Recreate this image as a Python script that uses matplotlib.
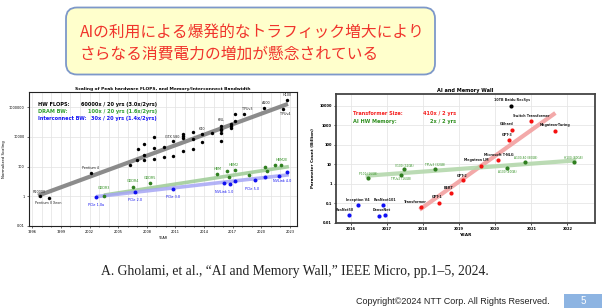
import matplotlib
matplotlib.use('Agg')
import matplotlib.pyplot as plt
from matplotlib.patches import FancyBboxPatch, Rectangle
from matplotlib.ticker import MultipleLocator, NullLocator, FixedLocator

# ---------------- data: left chart ----------------
flops_years = [1996.8, 1997.7, 2002.1, 2006.2, 2007.0, 2007.1, 2007.7, 2007.7, 2007.7,
               2008.8, 2008.8, 2008.8, 2009.8, 2009.8, 2010.7, 2010.8, 2011.8, 2011.8,
               2011.8, 2011.8, 2012.8, 2012.8, 2012.8, 2013.8, 2013.8, 2014.8, 2015.8,
               2015.8, 2015.8, 2015.8, 2015.8, 2016.8, 2016.8, 2016.8, 2017.3, 2017.3,
               2018.2, 2020.3, 2022.3, 2022.7]
flops_vals = [1.0, 0.73, 37, 130, 270, 1480, 3200, 580, 280,
              9100, 1740, 310, 2000, 470, 4900, 500, 15800, 11000,
              8500, 1200, 23000, 7400, 1620, 15800, 4200, 17800, 50000,
              34700, 27000, 18600, 4900, 76000, 52500, 38000, 324000, 126000,
              355000, 912000, 776000, 2820000]
flops_names = {0: "R10000", 1: "Pentium II Xeon", 2: "Pentium 4", 14: "GTX 580",
               23: "K40", 26: "KNL", 36: "TPUv3", 37: "A100", 38: "TPUv4", 39: "H100"}

dram_years = [2003.5, 2006.6, 2008.3, 2015.4, 2016.4, 2016.6, 2017.3, 2018.7,
              2020.4, 2020.6, 2021.4, 2022.1]
dram_vals = [1.0, 4.1, 7.6, 34, 49, 21, 60, 29, 100, 51, 129, 129]
dram_names = {0: "GDDR3", 1: "GDDR4", 2: "GDDR5", 3: "HBM", 6: "HBM2", 11: "HBM2E"}

ic_years = [2002.7, 2006.8, 2010.7, 2016.1, 2016.7, 2017.3, 2019.3, 2020.4, 2021.9, 2022.7]
ic_vals = [0.95, 1.95, 3.3, 7.9, 6.5, 10.2, 13.2, 19, 24.5, 40]
ic_names = {0: "PCIe 1.0a", 1: "PCIe 2.0", 2: "PCIe 3.0", 3: "NVLink 1.0",
            6: "PCIe 5.0", 9: "NVLink 4.0"}

flops_fit_years = [1996.6, 2022.8]
flops_fit_vals = [1.1, 1.66e6]
dram_fit_years = [2003.5, 2022.9]
dram_fit_vals = [1.2, 100]
ic_fit_years = [2002.7, 2022.9]
ic_fit_vals = [0.95, 28]

left_xticks = [1996, 1999, 2002, 2005, 2008, 2011, 2014, 2017, 2020, 2023]
left_yticks = [0.01, 1, 100, 10000, 1000000]
left_yticklabels = ["0.01", "1", "100", "10000", "1000000"]

# ---------------- data: right chart ----------------
cnn_names = ["ResNet50", "Inception V4", "ResNext101", "DenseNet", ""]
cnn_years = [2015.95, 2016.18, 2016.89, 2016.78, 2016.94]
cnn_vals = [0.025, 0.083, 0.083, 0.024, 0.027]

tr_names = ["Transformer", "GPT-1", "BERT", "GPT-2", "Megatron LM", "Microsoft T-NLG",
            "GPT-3", "GShard", "Switch Transformer", "Megatron-Turing"]
tr_years = [2017.93, 2018.44, 2018.77, 2019.10, 2019.60, 2020.09, 2020.37, 2020.46,
            2020.99, 2021.65]
tr_vals = [0.069, 0.11, 0.34, 1.5, 8.3, 17, 175, 600, 1600, 530]

hw_names = ["P100 (16GB)", "TPUv2 (16GB)", "V100 (32GB)", "TPUv3 (32GB)",
            "A100 (40GB)", "A100-80 (80GB)", "H100 (80GB)"]
hw_years = [2016.48, 2017.38, 2017.47, 2018.34, 2020.34, 2020.84, 2022.18]
hw_vals = [2.0, 2.75, 5.6, 5.6, 6.8, 13.8, 13.8]

rec_name = "10TB Baidu RecSys"
rec_year = 2020.44
rec_val = 10000

tr_fit_years = [2017.9, 2021.67]
tr_fit_vals = [0.048, 4270]
hw_fit_years = [2016.4, 2022.25]
hw_fit_vals = [2.6, 16]

right_xticks = [2016, 2017, 2018, 2019, 2020, 2021, 2022]
right_yticks = [0.01, 0.1, 1, 10, 100, 1000, 10000]
right_yticklabels = ["0.01", "0.1", "1", "10", "100", "1000", "10000"]

# ---------------- figure ----------------
W, H = 602, 308
fig = plt.figure(figsize=(W / 100, H / 100), dpi=100)
fig.patch.set_facecolor('white')

bg = fig.add_axes([0, 0, 1, 1])
bg.set_xlim(0, W)
bg.set_ylim(H, 0)
bg.axis('off')
bg.set_zorder(0)

cjk = ['Noto Sans CJK JP', 'DejaVu Sans']
box = FancyBboxPatch((66, 7.5), 369, 67, boxstyle='round,pad=0,rounding_size=11',
                     facecolor='#FFFFCC', edgecolor='#7D98C9', lw=1.3)
bg.add_patch(box)
bg.text(80, 32, "AIの利用による爆発的なトラフィック増大により", fontsize=11.3,
        color='#F0342C', family=cjk, ha='left', va='center')
bg.text(80, 54, "さらなる消費電力の増加が懸念されている", fontsize=11.3,
        color='#F0342C', family=cjk, ha='left', va='center')

bg.text(101, 272, "A. Gholami, et al., \u201cAI and Memory Wall,\u201d IEEE Micro, pp.1\u20135, 2024.",
        fontsize=9.8, family='Liberation Serif', ha='left', va='center', color='#222222')
bg.text(550, 301, "Copyright\u00a92024 NTT Corp. All Rights Reserved.", fontsize=6.5,
        family='Liberation Sans', ha='right', va='center', color='#222222')
bg.add_patch(Rectangle((564, 294), 38, 14, facecolor='#8DB4E2', edgecolor='none'))
bg.text(583, 301, "5", fontsize=7, color='white', family='Liberation Sans',
        ha='center', va='center')

PT = 0.72  # points per pixel


def lab(ax, text, x, y, dx, dy, color, size, weight='normal'):
    ax.annotate(text, (x, y), xytext=(dx * PT, dy * PT), textcoords='offset points',
                ha='center', va='center', fontsize=size, color=color, weight=weight,
                zorder=5)


# ---------------- left chart ----------------
axL = fig.add_axes([29 / W, 1 - 226 / H, 268 / W, 134 / H])
axL.set_zorder(1)
axL.set_yscale('log')
axL.set_xlim(1995.65, 2023.75)
axL.set_ylim(0.01, 1.05e7)

axL.plot(flops_fit_years, flops_fit_vals, color='#808080', lw=3.0, alpha=0.9,
         solid_capstyle='butt', zorder=2)
axL.plot(dram_fit_years, dram_fit_vals, color='#9CCB94', lw=2.6, alpha=0.85,
         solid_capstyle='butt', zorder=2)
axL.plot(ic_fit_years, ic_fit_vals, color='#A6A6F5', lw=2.6, alpha=0.85,
         solid_capstyle='butt', zorder=2)
axL.scatter(flops_years, flops_vals, s=6, color='black', zorder=3, linewidths=0)
axL.scatter(dram_years, dram_vals, s=7, color='#2F7F1F', zorder=3, linewidths=0)
axL.scatter(ic_years, ic_vals, s=8, color='#1010F0', zorder=3, linewidths=0)

fl_off = {0: (-1, 4), 1: (0, -5), 2: (0, 4.6), 14: (0, 4.3), 23: (0, 4.5), 26: (0, 6),
          36: (2.7, 5), 37: (1.7, 4.7), 38: (2.3, -4.7), 39: (0, 5)}
for i, name in flops_names.items():
    dx, dy = fl_off[i]
    lab(axL, name, flops_years[i], flops_vals[i], dx, dy, '#222222', 2.4)
dr_off = {0: (0, 8.3), 1: (0, 6), 2: (0, 5.3), 3: (0, 4.3), 6: (-1.7, 4.7), 11: (0, 4.7)}
for i, name in dram_names.items():
    dx, dy = dr_off[i]
    lab(axL, name, dram_years[i], dram_vals[i], dx, dy, '#2F8F1F', 2.4)
ic_off = {0: (0, -8.7), 1: (0, -7.7), 2: (0, -8.7), 3: (0, -8.7), 6: (-2.3, -9),
          9: (-5, -8.3)}
for i, name in ic_names.items():
    dx, dy = ic_off[i]
    lab(axL, name, ic_years[i], ic_vals[i], dx, dy, '#1010F0', 2.4)

axL.text(0.035, 0.903, "HW FLOPS:", transform=axL.transAxes, fontsize=3.6,
         weight='bold', color='black', va='center', ha='left')
axL.text(0.476, 0.903, "60000x / 20 yrs (3.0x/2yrs)", transform=axL.transAxes,
         fontsize=3.6, weight='bold', color='black', va='center', ha='right')
axL.text(0.035, 0.851, "DRAM BW:", transform=axL.transAxes, fontsize=3.6,
         weight='bold', color='#2F9F2F', va='center', ha='left')
axL.text(0.476, 0.851, "100x / 20 yrs (1.6x/2yrs)", transform=axL.transAxes,
         fontsize=3.6, weight='bold', color='#2F9F2F', va='center', ha='right')
axL.text(0.035, 0.804, "Interconnect BW:", transform=axL.transAxes, fontsize=3.6,
         weight='bold', color='#1515F5', va='center', ha='left')
axL.text(0.476, 0.804, "30x / 20 yrs (1.4x/2yrs)", transform=axL.transAxes,
         fontsize=3.6, weight='bold', color='#1515F5', va='center', ha='right')

axL.set_title("Scaling of Peak hardware FLOPS, and Memory/Interconnect Bandwidth",
              fontsize=3.2, weight='bold', pad=1.2)
axL.xaxis.set_major_locator(FixedLocator(left_xticks))
axL.xaxis.set_minor_locator(MultipleLocator(1))
axL.set_xticklabels([str(y) for y in left_xticks])
axL.yaxis.set_major_locator(FixedLocator(left_yticks))
axL.yaxis.set_minor_locator(NullLocator())
axL.set_yticklabels(left_yticklabels)
axL.tick_params(which='both', labelsize=2.5, length=1.5, width=0.4, pad=1.5)
axL.tick_params(which='minor', length=1)
axL.grid(which='both', axis='x', color='#E2E2E2', lw=0.5)
axL.grid(which='major', axis='y', color='#E2E2E2', lw=0.5)
axL.set_axisbelow(True)
axL.set_xlabel("YEAR", fontsize=2.5, labelpad=1)
axL.set_ylabel("Normalized Scaling", fontsize=2.8, labelpad=2)
for s in axL.spines.values():
    s.set_linewidth(0.8)
    s.set_color('#222222')

# ---------------- right chart ----------------
axR = fig.add_axes([336 / W, 1 - 223 / H, 259 / W, 129 / H])
axR.set_zorder(1)
axR.set_yscale('log')
axR.set_xlim(2015.58, 2022.77)
axR.set_ylim(0.01, 40000)

axR.plot(tr_fit_years, tr_fit_vals, color='#F2A0A0', lw=3.0, alpha=0.9,
         solid_capstyle='butt', zorder=2)
axR.plot(hw_fit_years, hw_fit_vals, color='#B4D8AC', lw=3.0, alpha=0.9,
         solid_capstyle='butt', zorder=2)
axR.scatter(cnn_years, cnn_vals, s=9, color='#1010F5', zorder=3, linewidths=0)
axR.scatter(tr_years, tr_vals, s=9, color='#F51010', zorder=3, linewidths=0)
axR.scatter(hw_years, hw_vals, s=9, color='#2F7F1F', zorder=3, linewidths=0)
axR.scatter([rec_year], [rec_val], s=9, color='black', zorder=3, linewidths=0)

cnn_off = [(-4.3, 5), (0, 5.3), (2, 5.3), (2.7, 6), (0, 0)]
for name, x, y, off in zip(cnn_names, cnn_years, cnn_vals, cnn_off):
    if name:
        lab(axR, name, x, y, off[0], off[1], '#222222', 2.4, 'bold')
tr_off = [(-5.3, 5), (-2, 5.3), (-2.3, 5), (-1, 4.7), (-4.7, 5.7), (0, 5.3),
          (-1.7, 5.3), (-5, 5.7), (0, 5.7), (0, 5.3)]
for name, x, y, off in zip(tr_names, tr_years, tr_vals, tr_off):
    lab(axR, name, x, y, off[0], off[1], '#222222', 2.4, 'bold')
hw_off = [(0, 4), (0, -3.7), (0, 3.7), (0, 4.3), (0, -4.3), (0, 4), (0, 4)]
for name, x, y, off in zip(hw_names, hw_years, hw_vals, hw_off):
    lab(axR, name, x, y, off[0], off[1], '#2F8F1F', 2.1)
lab(axR, rec_name, rec_year, rec_val, 1, 5.3, '#222222', 2.4, 'bold')

axR.text(0.066, 0.845, "Transformer Size:", transform=axR.transAxes, fontsize=3.6,
         weight='bold', color='#F52020', va='center', ha='left')
axR.text(0.465, 0.845, "410x / 2 yrs", transform=axR.transAxes, fontsize=3.6,
         weight='bold', color='#F52020', va='center', ha='right')
axR.text(0.066, 0.783, "AI HW Memory:", transform=axR.transAxes, fontsize=3.6,
         weight='bold', color='#2F8F1F', va='center', ha='left')
axR.text(0.465, 0.783, "2x / 2 yrs", transform=axR.transAxes, fontsize=3.6,
         weight='bold', color='#2F8F1F', va='center', ha='right')

axR.set_title("AI and Memory Wall", fontsize=3.6, weight='bold', pad=1.2)
axR.xaxis.set_major_locator(FixedLocator(right_xticks))
axR.set_xticklabels([str(y) for y in right_xticks])
axR.yaxis.set_major_locator(FixedLocator(right_yticks))
axR.yaxis.set_minor_locator(NullLocator())
axR.set_yticklabels(right_yticklabels)
axR.tick_params(which='both', labelsize=2.6, length=1.5, width=0.5, pad=1.5)
for t in axR.get_xticklabels() + axR.get_yticklabels():
    t.set_fontweight('bold')
axR.grid(which='major', color='#E6E6E6', lw=0.6)
axR.set_axisbelow(True)
axR.set_xlabel("YEAR", fontsize=3.0, weight='bold', labelpad=1)
axR.set_ylabel("Parameter Count (Billion)", fontsize=3.0, weight='bold', labelpad=3)
for s in axR.spines.values():
    s.set_linewidth(1.3)
    s.set_color('#444444')

fig.savefig('out.png', dpi=100)
